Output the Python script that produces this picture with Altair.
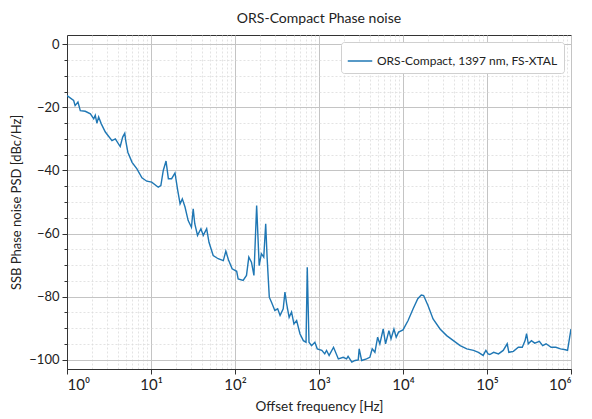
import altair as alt
import pandas as pd

freq = [1.0, 1.2, 1.25, 1.35, 1.44, 1.65, 1.9, 2.08, 2.17, 2.27, 2.38, 2.56, 2.86, 3.43, 3.76, 4.3, 4.6, 4.87, 5.0, 5.3,
        5.95, 6.8, 7.8, 8.9, 10.2, 12.2, 13.1, 14.0, 15.1, 16.1, 17.6, 19.3, 20.8, 22.2, 23.6, 25.4, 27.7, 30.3, 31.8,
        33.2, 35.8, 39.3, 41.9, 46, 49, 55, 63, 72.6, 77.8, 83.5, 92.5, 104.7, 109, 125, 137, 146, 157, 168, 181, 194,
        206, 220, 232, 241, 256, 272, 298, 322, 344, 375, 393, 412, 441, 471, 503, 542, 593, 651, 701, 725, 760, 815,
        893, 953, 1080, 1170, 1230, 1320, 1490, 1700, 1940, 2130, 2220, 2460, 2690, 2930, 3010, 3220, 3680, 4030, 4300,
        4630, 4990, 5300, 5810, 6200, 6800, 7200, 7800, 8300, 8850, 10000, 11500, 13200, 15000, 16500, 17600, 19900,
        22800, 27600, 33100, 39800, 47900, 57500, 69100, 79000, 90000, 97000, 103000, 108000, 120000, 137000, 156000,
        174000, 182000, 206000, 236000, 263000, 284000, 296000, 310000, 338000, 370000, 420000, 460000, 505000, 580000,
        660000, 750000, 860000, 910000, 1000000]
psd = [-16.2, -17.8, -19.4, -18.3, -21.0, -21.2, -22.0, -23.6, -22.5, -25.0, -23.0, -25.2, -27.8, -30.5, -30.0, -32.4,
       -29.4, -28.2, -30.5, -34.2, -37.4, -39.5, -42.3, -43.4, -43.7, -45.3, -44.8, -40.0, -37.0, -42.6, -42.6, -40.8,
       -46.3, -50.6, -49.0, -51.6, -55.9, -58.0, -52.2, -56.9, -60.6, -58.5, -60.6, -58.5, -62.8, -67.0, -68.0, -68.6,
       -65.6, -68.3, -71.2, -72.0, -74.4, -74.9, -73.3, -67.5, -69.1, -73.3, -51.1, -70.2, -66.4, -67.5, -56.9, -67.5,
       -80.2, -81.8, -84.4, -83.9, -86.0, -83.9, -78.6, -82.3, -86.6, -84.9, -88.7, -87.6, -91.8, -94.0, -94.5, -70.7,
       -94.5, -95.6, -94.5, -96.6, -97.1, -98.2, -97.1, -98.7, -96.1, -99.8, -99.3, -99.8, -99.0, -100.8, -100.3, -100.1,
       -96.6, -100.3, -99.8, -99.3, -96.6, -97.7, -92.9, -95.0, -90.3, -95.0, -90.8, -93.4, -90.3, -92.9, -91.3, -90.6,
       -87.6, -83.9, -80.7, -79.5, -79.7, -82.9, -87.1, -90.3, -92.4, -94.0, -95.6, -96.6, -97.1, -97.7, -98.7, -97.1,
       -98.2, -98.4, -97.7, -98.2, -97.1, -95.0, -97.7, -97.4, -96.1, -96.1, -94.0, -91.8, -95.0, -94.0, -94.8, -94.2,
       -95.6, -95.0, -96.1, -96.1, -96.6, -96.9, -97.1, -90.3]
series_name = "ORS-Compact, 1397 nm, FS-XTAL"

x_major = [1, 10, 100, 1000, 10000, 100000, 1000000]
x_minor = [m * d for d in [1, 10, 100, 1000, 10000, 100000] for m in range(2, 10)]
y_major = [-100, -80, -60, -40, -20, 0]
y_minor = list(range(-100, 5, 5))

df = pd.DataFrame({"f": freq, "psd": psd, "s": series_name})

FONT = "Lato"
xscale = alt.Scale(type="log", domain=[1, 1000000], nice=False)
yscale = alt.Scale(domain=[-103, 3], nice=False, zero=False)

minor = alt.Chart(df).mark_line(opacity=0).encode(
    x=alt.X("f:Q", scale=xscale, axis=alt.Axis(orient="bottom", values=x_minor, grid=True, gridDash=[2, 2],
                                                 gridColor="#dcdcdc", gridWidth=0.8, labels=False, ticks=False,
                                                 domain=False, title=None)),
    y=alt.Y("psd:Q", scale=yscale, axis=alt.Axis(orient="left", values=y_minor, grid=True, gridDash=[2, 2],
                                                   gridColor="#dcdcdc", gridWidth=0.8, labels=False, ticks=True,
                                                   tickSize=3, tickColor="#333", domain=False, title=None)),
)

main = alt.Chart(df).mark_line(strokeWidth=1.4, clip=True).encode(
    x=alt.X("f:Q", scale=xscale, axis=alt.Axis(
        orient="bottom", values=x_major, grid=True, gridColor="#c4c4c4", gridWidth=1,
        labelExpr="'10' + ['⁰','¹','²','³','⁴','⁵','⁶'][round(log(datum.value)/LN10)]",
        title="Offset frequency [Hz]", tickSize=5, tickColor="#333", domainColor="#333",
        labelFontSize=15, titleFontSize=13.5, labelFont=FONT, titleFont=FONT, labelColor="#222", titleColor="#222",
        titleFontWeight="normal", labelPadding=3, titlePadding=7)),
    y=alt.Y("psd:Q", scale=yscale, axis=alt.Axis(
        orient="left", values=y_major, grid=True, gridColor="#c4c4c4", gridWidth=1, format="d",
        title="SSB Phase noise PSD [dBc/Hz]", tickSize=5, tickColor="#333", domainColor="#333",
        labelFontSize=13, titleFontSize=13, labelFont=FONT, titleFont=FONT, labelColor="#222", titleColor="#222",
        titleFontWeight="normal", labelPadding=3, titlePadding=5)),
    color=alt.Color("s:N", scale=alt.Scale(range=["#1f77b4"]), legend=alt.Legend(
        title=None, orient="top-right", offset=7, symbolType="stroke", symbolSize=600, symbolStrokeWidth=1.5,
        labelFont=FONT, labelFontSize=12, labelColor="#222", strokeColor="#d0d0d0", fillColor="white",
        padding=6, cornerRadius=3, labelLimit=300)),
)

chart = alt.layer(minor, main).resolve_axis(x="independent", y="independent").properties(
    width=504, height=334,
    title=alt.TitleParams("ORS-Compact Phase noise", font=FONT, fontSize=14, fontWeight="normal", color="#222", offset=9),
    autosize=alt.AutoSizeParams(type="none"),
    padding={"left": 59, "top": 27, "right": 13, "bottom": 50},
).configure_view(stroke="#333", strokeWidth=1)

chart.save("out.html", embed_options={"renderer": "svg", "actions": False})
